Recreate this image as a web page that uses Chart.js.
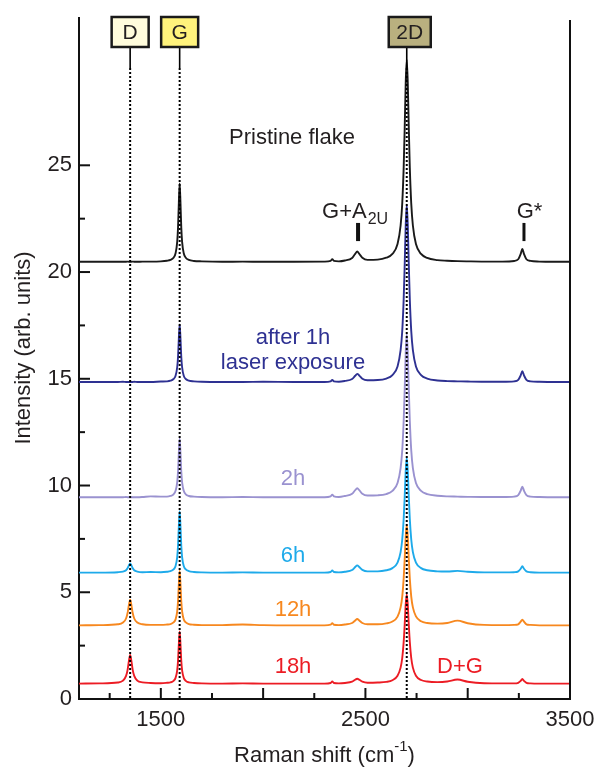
<!DOCTYPE html>
<html>
<head>
<meta charset="utf-8">
<title>Raman spectra</title>
<script src="https://cdn.jsdelivr.net/npm/chart.js@4.4.1/dist/chart.umd.min.js"></script>
<style>
  html, body { margin: 0; padding: 0; background: #fff; }
  canvas { display: block; }
</style>
</head>
<body>
<canvas id="ramanChart" width="598" height="769"></canvas>
<script>
// Raman shift grid (cm-1), shared by all spectra
var shift = [1100, 1200, 1290, 1315, 1330, 1338, 1344, 1350, 1356, 1362, 1370, 1385, 1410, 1450,
  1500, 1530, 1547, 1562, 1572, 1580, 1584, 1588, 1592, 1596, 1600, 1604, 1612, 1622, 1637, 1662, 1700, 1800,
  1900, 2000, 2150, 2300, 2330, 2338, 2346, 2370, 2400, 2435, 2450, 2460, 2470, 2485,
  2510, 2560, 2602, 2632, 2657, 2672, 2680, 2687, 2692, 2697, 2702, 2707, 2712, 2717, 2724, 2732, 2747, 2772, 2802,
  2852, 2900, 2950, 3000, 3080, 3170, 3227, 3247, 3259, 3267, 3275, 3287, 3307, 3350, 3420, 3500];

// intensities (already offset, as plotted)
var pristine = [20.48, 20.48, 20.48, 20.48, 20.48, 20.49, 20.48, 20.48, 20.48, 20.49, 20.48, 20.48, 20.49, 20.49,
  20.50, 20.53, 20.57, 20.67, 20.88, 21.41, 22.07, 23.25, 24.15, 23.25, 22.07, 21.41, 20.88, 20.67, 20.57, 20.52, 20.50, 20.48,
  20.49, 20.48, 20.48, 20.49, 20.52, 20.60, 20.52, 20.50, 20.54, 20.66, 20.85, 20.96, 20.85, 20.67,
  20.57, 20.58, 20.67, 20.85, 21.31, 22.18, 23.21, 24.89, 26.75, 28.88, 29.95, 28.88, 26.75, 24.89, 23.21, 22.18, 21.31, 20.85, 20.66,
  20.56, 20.53, 20.51, 20.50, 20.49, 20.49, 20.52, 20.60, 20.85, 21.08, 20.85, 20.60, 20.52, 20.49, 20.48, 20.48];
var after1h = [14.85, 14.85, 14.85, 14.86, 14.85, 14.85, 14.85, 14.85, 14.85, 14.85, 14.86, 14.85, 14.85, 14.85,
  14.87, 14.88, 14.91, 14.99, 15.14, 15.54, 16.02, 16.89, 17.55, 16.89, 16.02, 15.54, 15.14, 14.99, 14.91, 14.88, 14.86, 14.85,
  14.85, 14.86, 14.85, 14.85, 14.88, 14.95, 14.88, 14.86, 14.90, 14.99, 15.14, 15.23, 15.15, 15.00,
  14.93, 14.94, 15.01, 15.17, 15.58, 16.34, 17.24, 18.72, 20.35, 22.21, 23.15, 22.21, 20.35, 18.72, 17.24, 16.34, 15.58, 15.17, 15.01,
  14.92, 14.89, 14.88, 14.87, 14.86, 14.86, 14.88, 14.95, 15.16, 15.35, 15.16, 14.95, 14.88, 14.86, 14.85, 14.85];
var after2h = [9.45, 9.45, 9.45, 9.45, 9.46, 9.45, 9.45, 9.45, 9.45, 9.45, 9.45, 9.45, 9.46, 9.49,
  9.48, 9.48, 9.51, 9.59, 9.75, 10.15, 10.64, 11.52, 12.20, 11.52, 10.64, 10.15, 9.75, 9.59, 9.51, 9.48, 9.46, 9.45,
  9.46, 9.45, 9.45, 9.45, 9.49, 9.57, 9.49, 9.46, 9.51, 9.61, 9.78, 9.87, 9.78, 9.61,
  9.53, 9.54, 9.60, 9.75, 10.12, 10.82, 11.65, 13.02, 14.51, 16.24, 17.10, 16.24, 14.51, 13.02, 11.65, 10.82, 10.12, 9.75, 9.60,
  9.52, 9.49, 9.48, 9.47, 9.46, 9.46, 9.48, 9.55, 9.76, 9.95, 9.76, 9.55, 9.48, 9.46, 9.45, 9.45];
var after6h = [5.92, 5.92, 5.94, 5.97, 6.03, 6.14, 6.26, 6.35, 6.26, 6.14, 6.03, 5.97, 5.94, 5.95,
  5.94, 5.96, 5.99, 6.07, 6.23, 6.65, 7.17, 8.09, 8.80, 8.09, 7.17, 6.65, 6.23, 6.07, 5.99, 5.95, 5.93, 5.92,
  5.93, 5.92, 5.92, 5.92, 5.95, 6.02, 5.95, 5.93, 5.96, 6.04, 6.18, 6.26, 6.18, 6.05,
  5.98, 5.98, 6.03, 6.13, 6.39, 6.88, 7.47, 8.43, 9.48, 10.69, 11.30, 10.69, 9.48, 8.43, 7.47, 6.88, 6.39, 6.13, 6.03,
  5.98, 5.97, 6.00, 5.96, 5.93, 5.93, 5.94, 5.98, 6.10, 6.22, 6.10, 5.98, 5.94, 5.92, 5.92, 5.92];
var after12h = [3.45, 3.46, 3.50, 3.58, 3.77, 4.05, 4.41, 4.65, 4.41, 4.05, 3.77, 3.58, 3.50, 3.47,
  3.47, 3.49, 3.51, 3.59, 3.73, 4.10, 4.56, 5.38, 6.00, 5.38, 4.56, 4.10, 3.73, 3.59, 3.51, 3.48, 3.46, 3.46,
  3.49, 3.46, 3.45, 3.45, 3.48, 3.55, 3.48, 3.46, 3.49, 3.56, 3.68, 3.75, 3.68, 3.56,
  3.50, 3.50, 3.54, 3.63, 3.86, 4.29, 4.80, 5.64, 6.56, 7.62, 8.15, 7.62, 6.56, 5.64, 4.80, 4.29, 3.87, 3.64, 3.56,
  3.53, 3.56, 3.67, 3.55, 3.47, 3.46, 3.47, 3.50, 3.62, 3.72, 3.62, 3.50, 3.47, 3.45, 3.45, 3.45];
var after18h = [0.72, 0.73, 0.77, 0.86, 1.08, 1.39, 1.79, 2.06, 1.79, 1.39, 1.08, 0.86, 0.78, 0.75,
  0.74, 0.76, 0.78, 0.85, 0.99, 1.34, 1.78, 2.56, 3.16, 2.56, 1.78, 1.34, 0.99, 0.85, 0.78, 0.75, 0.73, 0.72,
  0.73, 0.72, 0.72, 0.72, 0.75, 0.82, 0.75, 0.73, 0.75, 0.81, 0.90, 0.95, 0.90, 0.81,
  0.76, 0.77, 0.80, 0.88, 1.09, 1.47, 1.92, 2.67, 3.49, 4.43, 4.90, 4.43, 3.49, 2.67, 1.92, 1.47, 1.09, 0.89, 0.82,
  0.79, 0.82, 0.91, 0.81, 0.74, 0.73, 0.73, 0.76, 0.85, 0.94, 0.85, 0.76, 0.73, 0.72, 0.72, 0.72];

var seriesNames = ['Pristine flake', '1h', '2h', '6h', '12h', '18h'];
var seriesColors = ['#1a1a1a', '#2e3192', '#9a92d0', '#1eaaea', '#f7881f', '#ec1c24'];

// tick labels / tick marks
var xLabels = [1500, 2500, 3500];
var xMajorTicks = [1500, 2000, 2500, 3000];
var xMinorTicks = [1250, 1750, 2250, 2750, 3250];
var yLabels = [0, 5, 10, 15, 20, 25];
var yMinorTicks = [2.5, 7.5, 12.5, 17.5, 22.5];

// peak markers at the top
var peakNames = ['D', 'G', '2D'];
var peakPos = [1350, 1592, 2702];
var peakFill = ['#fffcdc', '#fff37c', '#b9b07f'];

var FONT = '"Liberation Sans", Arial, Helvetica, sans-serif';
var INK = '#231f20';

// text annotations, placed in data coordinates
var notes = [
  { text: 'Pristine flake', x: 2141, y: 26.3, color: INK },
  { text: 'after 1h', x: 2146, y: 16.9, color: '#2e3192' },
  { text: 'laser exposure', x: 2146, y: 15.75, color: '#2e3192' },
  { text: '2h', x: 2146, y: 10.3, color: '#9a92d0' },
  { text: '6h', x: 2146, y: 6.7, color: '#1eaaea' },
  { text: '12h', x: 2146, y: 4.17, color: '#f7881f' },
  { text: '18h', x: 2146, y: 1.5, color: '#ec1c24' },
  { text: 'D+G', x: 2962, y: 1.5, color: '#ec1c24' },
  { text: 'G*', x: 3302, y: 22.8, color: INK }
];

function toPoints(ys) {
  return shift.map(function (x, i) { return { x: x, y: ys[i] }; });
}

var overlay = {
  id: 'overlay',
  afterDatasetsDraw: function (chart) {
    var ctx = chart.ctx, xs = chart.scales.x, ys = chart.scales.y, a = chart.chartArea;
    ctx.save();
    ctx.strokeStyle = '#111';
    ctx.lineCap = 'butt';

    function seg(x1, y1, x2, y2, w) {
      ctx.lineWidth = w;
      ctx.beginPath(); ctx.moveTo(x1, y1); ctx.lineTo(x2, y2); ctx.stroke();
    }

    // right frame
    seg(a.right, a.top + 2, a.right, a.bottom + 1, 2);

    // inward ticks
    xMajorTicks.forEach(function (v) { var p = xs.getPixelForValue(v); seg(p, a.bottom, p, a.bottom - 11, 2); });
    xMinorTicks.forEach(function (v) { var p = xs.getPixelForValue(v); seg(p, a.bottom, p, a.bottom - 6, 2); });
    yLabels.forEach(function (v) { if (v > 0) { var p = ys.getPixelForValue(v); seg(a.left, p, a.left + 11, p, 2); } });
    yMinorTicks.forEach(function (v) { var p = ys.getPixelForValue(v); seg(a.left, p, a.left + 6, p, 2); });

    // peak guide lines + boxes
    peakPos.forEach(function (v, i) {
      var p = xs.getPixelForValue(v);
      ctx.strokeStyle = '#000';
      seg(p, 47, p, 68, 1.6);
      ctx.setLineDash([2, 2]);
      seg(p, 68, p, a.bottom, 2);
      ctx.setLineDash([]);
      var w = peakNames[i].length > 1 ? 42 : 37;
      var bx = p - w / 2 + (i === 2 ? 3 : 0);
      ctx.fillStyle = peakFill[i];
      ctx.fillRect(bx, 17, w, 30);
      ctx.lineWidth = 2.5;
      ctx.strokeStyle = '#1a1a1a';
      ctx.strokeRect(bx, 17, w, 30);
      ctx.fillStyle = INK;
      ctx.font = '21px ' + FONT;
      ctx.textAlign = 'center';
      ctx.textBaseline = 'middle';
      ctx.fillText(peakNames[i], bx + w / 2, 33);
    });

    // text notes
    ctx.textAlign = 'center';
    ctx.textBaseline = 'middle';
    ctx.font = '22px ' + FONT;
    notes.forEach(function (n) {
      ctx.fillStyle = n.color;
      ctx.fillText(n.text, xs.getPixelForValue(n.x), ys.getPixelForValue(n.y));
    });

    // G+A2U with subscript
    var gx = xs.getPixelForValue(2288), gy = ys.getPixelForValue(22.8);
    ctx.fillStyle = INK;
    ctx.textAlign = 'left';
    ctx.font = '22px ' + FONT;
    ctx.fillText('G+A', gx, gy);
    var gw = ctx.measureText('G+A').width;
    ctx.font = '16px ' + FONT;
    ctx.fillText('2U', gx + gw + 1, gy + 7);

    // small marker bars above G+A2U and G*
    ctx.strokeStyle = '#111';
    [2464, 3275].forEach(function (v, i) {
      var p = xs.getPixelForValue(v);
      seg(p, ys.getPixelForValue(22.3), p, ys.getPixelForValue(21.45), i === 0 ? 4 : 3);
    });

    // axis titles
    ctx.fillStyle = INK;
    ctx.font = '22px ' + FONT;
    ctx.textAlign = 'left';
    ctx.textBaseline = 'middle';
    var t1 = 'Raman shift (cm', t2 = '-1', t3 = ')';
    var w1 = ctx.measureText(t1).width, w3 = ctx.measureText(t3).width;
    ctx.font = '15px ' + FONT;
    var w2 = ctx.measureText(t2).width;
    var tx = (a.left + a.right) / 2 - (w1 + w2 + w3) / 2, ty = 756;
    ctx.font = '22px ' + FONT;
    ctx.fillText(t1, tx, ty);
    ctx.font = '15px ' + FONT;
    ctx.fillText(t2, tx + w1, ty - 9);
    ctx.font = '22px ' + FONT;
    ctx.fillText(t3, tx + w1 + w2, ty);

    ctx.translate(24, 348);
    ctx.rotate(-Math.PI / 2);
    ctx.textAlign = 'center';
    ctx.fillText('Intensity (arb. units)', 0, 0);
    ctx.restore();
  }
};

var allSeries = [pristine, after1h, after2h, after6h, after12h, after18h];

new Chart(document.getElementById('ramanChart').getContext('2d'), {
  type: 'line',
  data: {
    datasets: allSeries.map(function (ys, i) {
      return {
        label: seriesNames[i],
        data: toPoints(ys),
        borderColor: seriesColors[i],
        borderWidth: 1.9,
        pointRadius: 0,
        fill: false,
        cubicInterpolationMode: 'monotone'
      };
    })
  },
  options: {
    responsive: false,
    animation: false,
    devicePixelRatio: 1,
    layout: { padding: { top: 18, right: 28, left: 0, bottom: 0 } },
    plugins: { legend: { display: false }, tooltip: { enabled: false } },
    scales: {
      x: {
        type: 'linear', min: 1100, max: 3500,
        grid: { display: false, drawTicks: false },
        border: { display: true, width: 2, color: '#111' },
        afterBuildTicks: function (s) { s.ticks = xLabels.map(function (v) { return { value: v }; }); },
        afterFit: function (s) { s.height = 70; s.paddingLeft = 0; s.paddingRight = 0; },
        ticks: { padding: 8, color: INK, font: { family: FONT, size: 22 }, maxRotation: 0, autoSkip: false,
                 callback: function (v) { return String(v); } }
      },
      y: {
        type: 'linear', min: 0, max: 31.9,
        grid: { display: false, drawTicks: false },
        border: { display: true, width: 2, color: '#111' },
        afterBuildTicks: function (s) { s.ticks = yLabels.map(function (v) { return { value: v }; }); },
        afterFit: function (s) { s.width = 79; s.paddingTop = 0; s.paddingBottom = 0; },
        ticks: { padding: 7, color: INK, font: { family: FONT, size: 22 },
                 callback: function (v) { return String(v); } }
      }
    }
  },
  plugins: [overlay]
});
</script>
</body>
</html>
